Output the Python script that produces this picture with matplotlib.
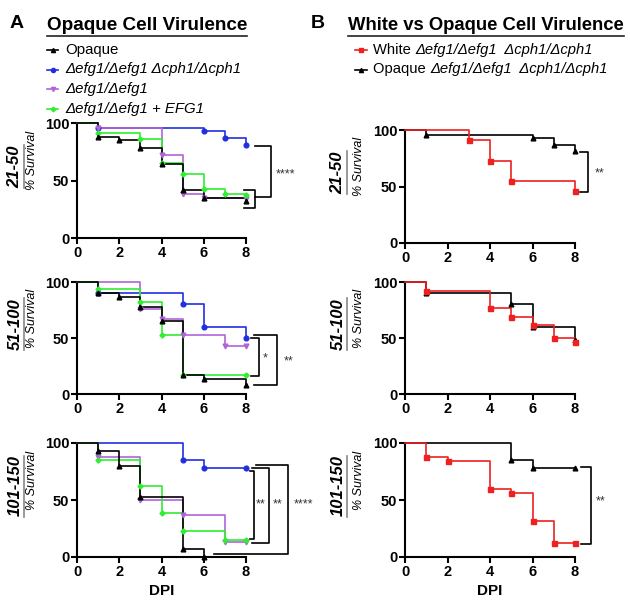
import matplotlib
matplotlib.use('Agg')
import matplotlib.pyplot as plt

plt.rcParams['font.family'] = ['Liberation Sans', 'DejaVu Sans']

# ---- data: (day, % survival) step points ----
ticks_x = [0, 2, 4, 6, 8]
ticks_y = [0, 50, 100]
row_labels = ['21-50', '51-100', '101-150']

# panel A, row 21-50
a1_opq_t = [0, 1, 2, 3, 4, 5, 6, 8]
a1_opq_s = [100, 88, 85, 78, 64, 42, 35, 32]
a1_dd_t = [0, 1, 6, 7, 8]
a1_dd_s = [100, 96, 93, 87, 81]
a1_efg_t = [0, 1, 4, 5, 6, 8]
a1_efg_s = [100, 96, 72, 38, 35, 34]
a1_add_t = [0, 1, 3, 4, 5, 6, 7, 8]
a1_add_s = [100, 91, 86, 65, 56, 43, 38, 37]

# panel A, row 51-100
a2_opq_t = [0, 1, 2, 3, 4, 5, 6, 8]
a2_opq_s = [100, 90, 87, 78, 65, 17, 13, 8]
a2_dd_t = [0, 1, 5, 6, 8]
a2_dd_s = [100, 90, 80, 60, 50]
a2_efg_t = [0, 3, 4, 5, 7, 8]
a2_efg_s = [100, 76, 67, 53, 43, 43]
a2_add_t = [0, 1, 3, 4, 5, 8]
a2_add_s = [100, 94, 82, 53, 17, 17]

# panel A, row 101-150
a3_opq_t = [0, 1, 2, 3, 5, 6]
a3_opq_s = [100, 93, 80, 53, 7, 0]
a3_dd_t = [0, 5, 6, 8]
a3_dd_s = [100, 85, 78, 78]
a3_efg_t = [0, 1, 3, 5, 7, 8]
a3_efg_s = [100, 88, 50, 37, 13, 13]
a3_add_t = [0, 1, 3, 4, 5, 7, 8]
a3_add_s = [100, 85, 62, 39, 23, 15, 15]

# panel B
b1_wh_t = [0, 3, 4, 5, 8]
b1_wh_s = [100, 91, 73, 55, 46]
b1_op_t = [0, 1, 6, 7, 8]
b1_op_s = [100, 96, 93, 87, 81]
b2_wh_t = [0, 1, 4, 5, 6, 7, 8]
b2_wh_s = [100, 92, 77, 69, 62, 50, 46]
b2_op_t = [0, 1, 5, 6, 8]
b2_op_s = [100, 90, 80, 60, 48]
b3_wh_t = [0, 1, 2, 4, 5, 6, 7, 8]
b3_wh_s = [100, 88, 84, 60, 56, 32, 12, 12]
b3_op_t = [0, 5, 6, 8]
b3_op_s = [100, 85, 78, 78]

BLUE = '#2030e0'
PURPLE = '#b064d8'
GREEN = '#30ee30'
RED = '#ee2020'

fig = plt.figure(figsize=(6.3, 6.0), dpi=100)
ov = fig.add_axes([0, 0, 1, 1])
ov.set_xlim(0, 630)
ov.set_ylim(600, 0)
ov.axis('off')


def px_axes(left, top, right, bottom):
    return fig.add_axes([left / 630, 1 - bottom / 600,
                         (right - left) / 630, (bottom - top) / 600])


def style(ax):
    ax.set_xlim(0, 8)
    ax.set_ylim(0, 100)
    ax.set_xticks(ticks_x)
    ax.set_yticks(ticks_y)
    ax.set_xticklabels([str(v) for v in ticks_x], fontweight='bold', fontsize=10.5)
    ax.set_yticklabels([str(v) for v in ticks_y], fontweight='bold', fontsize=10.5)
    for s in ['top', 'right']:
        ax.spines[s].set_visible(False)
    for s in ['left', 'bottom']:
        ax.spines[s].set_linewidth(1.5)
    ax.tick_params(direction='out', length=4, width=1.5, pad=1.5)
    ax.patch.set_alpha(0)


def km(ax, t, s, color, marker, ms=3.2):
    ax.step(t, s, where='post', color=color, lw=1.2, clip_on=False, zorder=3)
    ax.plot(t[1:], s[1:], ls='none', marker=marker, color=color, ms=ms,
            clip_on=False, zorder=4)


def bracket(ax, x0, x1, ytop, ybot, x0b=None):
    if x0b is None:
        x0b = x0
    ax.plot([x0, x1, x1, x0b], [ytop, ytop, ybot, ybot], color='black',
            lw=1.2, clip_on=False)


def stars(ax, x, y, txt):
    ax.text(x, y, txt, ha='center', va='center', fontsize=9, color='#333333')


axA = [px_axes(77, 123, 246, 238), px_axes(77, 282, 246, 394), px_axes(77, 443, 246, 557)]
axB = [px_axes(405, 130, 575, 243), px_axes(405, 282, 575, 394), px_axes(405, 443, 575, 557)]

rowsA = [
    (a1_opq_t, a1_opq_s, a1_dd_t, a1_dd_s, a1_efg_t, a1_efg_s, a1_add_t, a1_add_s),
    (a2_opq_t, a2_opq_s, a2_dd_t, a2_dd_s, a2_efg_t, a2_efg_s, a2_add_t, a2_add_s),
    (a3_opq_t, a3_opq_s, a3_dd_t, a3_dd_s, a3_efg_t, a3_efg_s, a3_add_t, a3_add_s),
]
for ax, r in zip(axA, rowsA):
    style(ax)
    km(ax, r[2], r[3], BLUE, 'o', 3.4)
    km(ax, r[4], r[5], PURPLE, 'v', 3.4)
    km(ax, r[6], r[7], GREEN, 'D', 2.6)
    km(ax, r[0], r[1], 'black', '^', 3.4)

rowsB = [
    (b1_wh_t, b1_wh_s, b1_op_t, b1_op_s),
    (b2_wh_t, b2_wh_s, b2_op_t, b2_op_s),
    (b3_wh_t, b3_wh_s, b3_op_t, b3_op_s),
]
for ax, r in zip(axB, rowsB):
    style(ax)
    km(ax, r[2], r[3], 'black', '^', 3.4)
    km(ax, r[0], r[1], RED, 's', 3.6)

# significance brackets
bracket(axA[0], 7.9, 8.44, 42, 26)
bracket(axA[0], 8.44, 9.2, 80, 35.5)
stars(axA[0], 9.85, 55.6, '****')

bracket(axA[1], 8.24, 8.63, 49.6, 16)
bracket(axA[1], 8.39, 9.45, 52.5, 8)
stars(axA[1], 8.91, 31.8, '*')
stars(axA[1], 10.0, 28.8, '**')

bracket(axA[2], 8.19, 8.39, 75.6, 16.2)
bracket(axA[2], 8.27, 9.1, 78, 12.4)
bracket(axA[2], 8.47, 9.97, 81, 3, x0b=6.5)
stars(axA[2], 8.7, 46, '**')
stars(axA[2], 9.5, 46, '**')
stars(axA[2], 10.72, 46, '****')

bracket(axB[0], 8.24, 8.63, 80.9, 44.7)
stars(axB[0], 9.15, 61.8, '**')
bracket(axB[2], 8.28, 8.75, 78.8, 11.2)
stars(axB[2], 9.22, 48.5, '**')

for ax in (axA[2], axB[2]):
    ax.set_xlabel('DPI', fontweight='bold', fontsize=11, labelpad=4)

# panel letters and titles
ov.text(10, 24, 'A', fontsize=14, fontweight='bold', va='center')
ov.text(311, 24, 'B', fontsize=14, fontweight='bold', va='center')
tA = ov.text(47, 26, 'Opaque Cell Virulence', fontsize=13.6, fontweight='bold', va='center')
tB = ov.text(348, 26, 'White vs Opaque Cell Virulence', fontsize=13.3, fontweight='bold', va='center')

# legends
legA = [('black', '^', 'Opaque'),
        (BLUE, 'o', '\u0394efg1/\u0394efg1 \u0394cph1/\u0394cph1'),
        (PURPLE, 'v', '\u0394efg1/\u0394efg1'),
        (GREEN, 'D', '\u0394efg1/\u0394efg1 + EFG1')]
for i, (c, m, lab) in enumerate(legA):
    y = 50 + i * 19.5
    ov.plot([47, 58], [y, y], color=c, lw=1.2)
    ov.plot([52.5], [y], marker=m, color=c, ms=3 if m != 'D' else 2.4)
    ov.text(65, y, lab, fontsize=10.8, va='center', style='normal' if i == 0 else 'italic')

legB = [(RED, 's', 'White ', '\u0394efg1/\u0394efg1  \u0394cph1/\u0394cph1'),
        ('black', '^', 'Opaque ', '\u0394efg1/\u0394efg1  \u0394cph1/\u0394cph1')]
legB_txt = []
for i, (c, m, lab, geno) in enumerate(legB):
    y = 50 + i * 19.5
    ov.plot([355, 367], [y, y], color=c, lw=1.2)
    ov.plot([361], [y], marker=m, color=c, ms=3)
    legB_txt.append((ov.text(373, y, lab, fontsize=10.6, va='center'), geno, y))

# row labels
rowA_centers = [(123 + 238) / 2, (282 + 394) / 2, (443 + 557) / 2]
row_txt = []
for yc, lab in zip(rowA_centers, row_labels):
    row_txt.append(ov.text(15, yc - 14, lab, rotation=90, fontsize=12, fontweight='bold',
                           style='italic', ha='center', va='center'))
    ov.text(32, yc - 20, '% Survival', rotation=90, fontsize=9, style='italic',
            ha='center', va='center')
for yc, lab in zip([(130 + 243) / 2, (282 + 394) / 2, (443 + 557) / 2], row_labels):
    row_txt.append(ov.text(338, yc - 14, lab, rotation=90, fontsize=12, fontweight='bold',
                           style='italic', ha='center', va='center'))
    ov.text(359, yc - 20, '% Survival', rotation=90, fontsize=9, style='italic',
            ha='center', va='center')

# measure text to place underlines and the italic part of legend B
fig.canvas.draw()
r = fig.canvas.get_renderer()
for t in (tA, tB):
    bb = t.get_window_extent(r)
    ov.plot([bb.x0, bb.x1], [600 - bb.y0 + 1, 600 - bb.y0 + 1], color='#222222', lw=1.2)
for t in row_txt:
    bb = t.get_window_extent(r)
    ov.plot([bb.x1 + 1, bb.x1 + 1], [600 - bb.y0, 600 - bb.y1], color='#888888', lw=1.2)
for t, geno, y in legB_txt:
    bb = t.get_window_extent(r)
    ov.text(bb.x1, y, geno, fontsize=10.6, va='center', style='italic')

fig.savefig('out.png', dpi=100)
